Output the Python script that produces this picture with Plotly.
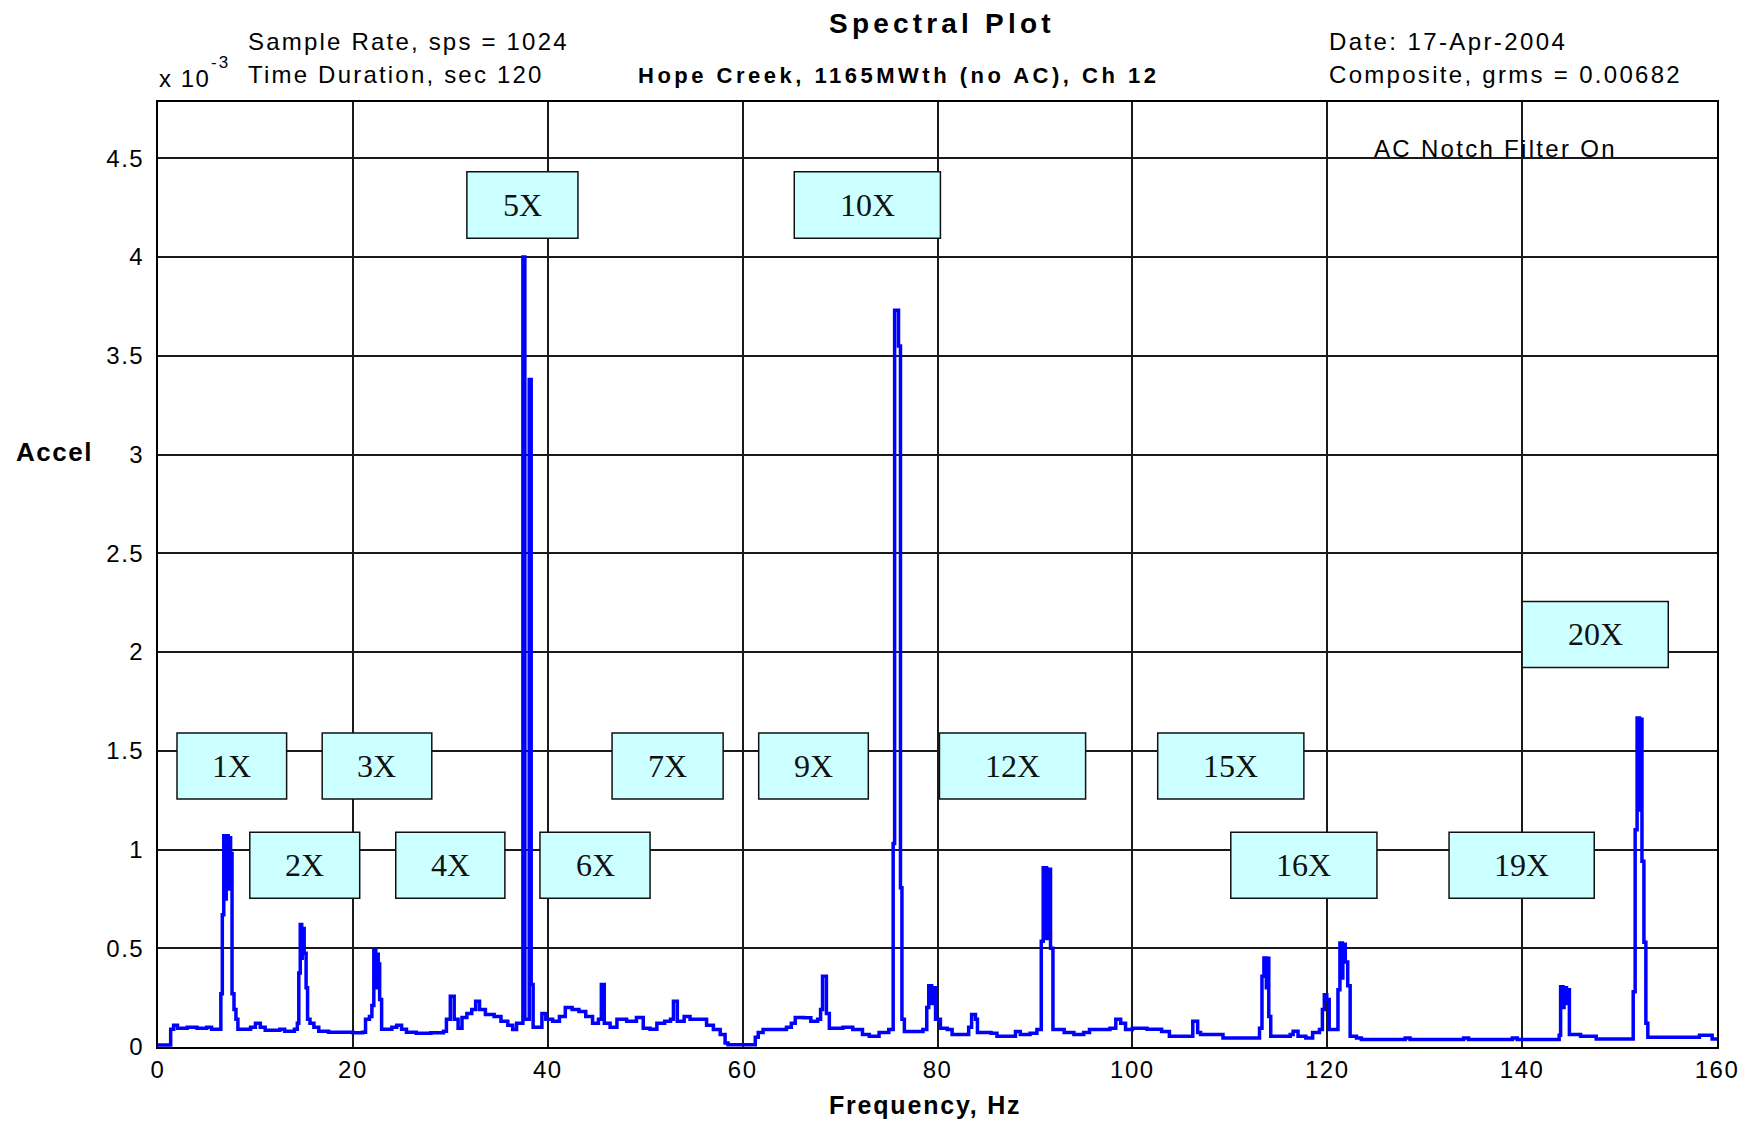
import plotly.graph_objects as go

# ---------------- data ----------------
freq_hz = [0.0, 1.3, 1.6, 2.0, 3.0, 4.0, 5.0, 5.5, 6.45, 6.6,
           6.75, 6.95, 7.0, 7.2, 7.25, 7.45, 7.6, 7.8, 8.0, 8.2,
           9.5, 10.0, 10.5, 11.0, 12.5, 13.0, 14.0, 14.3, 14.45, 14.6,
           14.75, 14.8, 15.0, 15.2, 15.35, 15.6, 16.0, 16.5, 17.5, 19.0,
           20.0, 21.0, 21.3, 21.7, 21.95, 22.15, 22.35, 22.4, 22.6, 22.75,
           22.95, 24.0, 24.5, 25.0, 25.5, 26.5, 28.0, 29.3, 29.6, 30.0,
           30.4, 30.8, 31.2, 31.7, 32.2, 32.6, 33.0, 33.6, 34.5, 35.2,
           35.9, 36.4, 36.8, 37.45, 37.65, 38.1, 38.3, 38.5, 39.4, 39.8,
           40.5, 41.2, 41.8, 42.5, 43.2, 43.9, 44.6, 45.2, 45.5, 45.8,
           46.4, 47.1, 48.1, 49.1, 49.8, 50.5, 51.2, 52.0, 52.6, 52.9,
           53.3, 54.0, 54.6, 55.6, 56.3, 57.0, 57.7, 58.2, 58.5, 61.3,
           61.6, 62.1, 64.5, 65.0, 65.4, 66.3, 67.0, 67.7, 68.0, 68.2,
           68.6, 68.9, 69.6, 70.3, 71.3, 72.3, 73.0, 74.0, 75.0, 75.45,
           75.6, 76.0, 76.2, 76.35, 76.6, 78.5, 78.9, 79.1, 79.4, 79.45,
           79.8, 80.3, 81.0, 81.5, 83.0, 83.2, 83.5, 83.9, 84.1, 85.5,
           86.1, 87.5, 88.0, 88.5, 89.5, 90.2, 90.65, 90.85, 91.2, 91.25,
           91.6, 91.85, 93.0, 94.0, 95.0, 95.6, 97.7, 98.3, 98.8, 99.3,
           100.0, 101.5, 103.0, 103.8, 106.0, 106.2, 106.7, 107.0, 109.3, 112.7,
           113.05, 113.3, 113.5, 113.75, 113.8, 114.0, 114.2, 116.2, 116.5, 117.0,
           117.8, 118.5, 119.2, 119.5, 119.7, 119.95, 120.2, 121.1, 121.3, 121.55,
           121.6, 121.85, 122.1, 122.35, 123.0, 123.5, 128.0, 128.5, 134.0, 134.5,
           139.0, 139.5, 143.8, 143.95, 144.2, 144.3, 144.55, 144.6, 144.85, 146.0,
           147.6, 151.4, 151.6, 151.8, 152.05, 152.1, 152.3, 152.5, 152.7, 152.9,
           158.2, 159.5, 160.0]
accel_e3 = [0.01, 0.09, 0.11, 0.095, 0.10, 0.095, 0.10, 0.09, 0.27, 0.67,
            1.07, 0.75, 1.07, 0.80, 1.06, 0.98, 0.27, 0.19, 0.14, 0.09,
            0.10, 0.12, 0.10, 0.085, 0.09, 0.08, 0.09, 0.12, 0.375, 0.62,
            0.45, 0.60, 0.475, 0.30, 0.14, 0.12, 0.10, 0.08, 0.075, 0.075,
            0.072, 0.075, 0.14, 0.155, 0.21, 0.49, 0.30, 0.47, 0.42, 0.24,
            0.09, 0.10, 0.11, 0.09, 0.075, 0.07, 0.072, 0.08, 0.14, 0.257,
            0.14, 0.095, 0.15, 0.17, 0.19, 0.232, 0.19, 0.165, 0.155, 0.13,
            0.11, 0.089, 0.12, 4.0, 0.14, 3.38, 0.316, 0.10, 0.17, 0.14,
            0.13, 0.155, 0.20, 0.19, 0.18, 0.155, 0.12, 0.14, 0.316, 0.12,
            0.10, 0.14, 0.13, 0.15, 0.095, 0.09, 0.12, 0.13, 0.14, 0.232,
            0.13, 0.155, 0.14, 0.14, 0.11, 0.089, 0.063, 0.02, 0.012, 0.05,
            0.074, 0.089, 0.10, 0.12, 0.15, 0.148, 0.13, 0.14, 0.19, 0.358,
            0.17, 0.095, 0.095, 0.10, 0.089, 0.063, 0.055, 0.074, 0.089, 1.03,
            3.73, 3.55, 0.806, 0.14, 0.079, 0.089, 0.20, 0.31, 0.22, 0.30,
            0.14, 0.095, 0.089, 0.063, 0.063, 0.10, 0.165, 0.14, 0.074, 0.07,
            0.055, 0.055, 0.079, 0.063, 0.07, 0.089, 0.535, 0.907, 0.55, 0.90,
            0.50, 0.089, 0.074, 0.063, 0.074, 0.089, 0.095, 0.14, 0.12, 0.089,
            0.095, 0.09, 0.079, 0.055, 0.055, 0.13, 0.074, 0.063, 0.046, 0.046,
            0.095, 0.358, 0.451, 0.30, 0.45, 0.155, 0.055, 0.063, 0.08, 0.055,
            0.046, 0.074, 0.089, 0.19, 0.265, 0.24, 0.089, 0.29, 0.527, 0.35,
            0.52, 0.43, 0.31, 0.055, 0.046, 0.038, 0.045, 0.038, 0.045, 0.038,
            0.045, 0.038, 0.06, 0.305, 0.20, 0.30, 0.22, 0.29, 0.063, 0.055,
            0.04, 0.28, 1.10, 1.666, 1.20, 1.66, 0.94, 0.53, 0.12, 0.05,
            0.06, 0.04, 0.04]

x_ticks = [0, 20, 40, 60, 80, 100, 120, 140, 160]
x_tick_labels = ["0", "20", "40", "60", "80", "100", "120", "140", "160"]
y_ticks = [0, 0.5, 1, 1.5, 2, 2.5, 3, 3.5, 4, 4.5]
y_tick_labels = ["0", "0.5", "1", "1.5", "2", "2.5", "3", "3.5", "4", "4.5"]

harmonic_labels = ["1X", "2X", "3X", "4X", "5X", "6X", "7X", "9X", "10X", "12X", "15X", "16X", "19X", "20X"]
box_f0 = [1.95, 9.42, 16.85, 24.4, 31.7, 39.2, 46.6, 61.65, 65.3, 80.2, 102.6, 110.1, 132.5, 140.0]
box_f1 = [13.2, 20.7, 28.1, 35.6, 43.1, 50.5, 58.0, 72.9, 80.3, 95.2, 117.6, 125.1, 147.4, 155.0]
box_a0 = [1.256, 0.753, 1.256, 0.753, 4.095, 0.753, 1.256, 1.256, 4.095, 1.256, 1.256, 0.753, 0.753, 1.922]
box_a1 = [1.590, 1.087, 1.590, 1.087, 4.432, 1.087, 1.590, 1.590, 4.432, 1.590, 1.590, 1.087, 1.087, 2.256]

# ---------------- figure ----------------
SANS = "Liberation Sans, Arial, sans-serif"
SERIF = "Liberation Serif, Times New Roman, serif"


def spaced(text, ls):
    return '<span style="letter-spacing:%spx">%s</span>' % (ls, text)


fig = go.Figure()
fig.add_trace(go.Scatter(
    x=freq_hz, y=accel_e3, mode="lines", line_shape="hv",
    line=dict(color="#0000FF", width=3.5), showlegend=False, hoverinfo="x+y"))

OFF = 8                      # page offset of the figure (body margin)
W, H = 1752 - OFF, 1121 - OFF
ML, MR, MT, MB = 149.5, 34.5, 94, 73.5
PW, PH = W - ML - MR, H - MT - MB


def px(x_page):
    return (x_page - OFF - ML) / PW


def py(y_page):
    return (H - MB - (y_page - OFF)) / PH


shapes = []
annotations = []
for lab, f0, f1, a0, a1 in zip(harmonic_labels, box_f0, box_f1, box_a0, box_a1):
    shapes.append(dict(type="rect", xref="x", yref="y", x0=f0, x1=f1, y0=a0, y1=a1,
                       fillcolor="#CCFFFF", line=dict(color="#111111", width=1.5), layer="above"))
    annotations.append(dict(x=(f0 + f1) / 2, y=(a0 + a1) / 2, xref="x", yref="y", text=lab,
                            showarrow=False, xanchor="center", yanchor="middle",
                            font=dict(family=SERIF, size=32, color="#111111")))

hdr = dict(family=SANS, size=24, color="#000000")
annotations += [
    dict(x=px(942), y=py(23), text=spaced("<b>Spectral Plot</b>", 4.2),
         font=dict(family=SANS, size=28, color="#000000"), xanchor="center"),
    dict(x=px(898), y=py(75), text=spaced("<b>Hope Creek, 1165MWth (no AC), Ch 12</b>", 3.5),
         font=dict(family=SANS, size=22, color="#000000"), xanchor="center"),
    dict(x=px(246), y=py(41.5), text=spaced("Sample Rate, sps = 1024", 2.2), font=hdr, xanchor="left"),
    dict(x=px(246), y=py(74.5), text=spaced("Time Duration, sec 120", 2.2), font=hdr, xanchor="left"),
    dict(x=px(156), y=py(78), text=spaced("x 10", 1.5), font=hdr, xanchor="left"),
    dict(x=px(209), y=py(62.5), text=spaced("-3", 2), font=dict(family=SANS, size=17, color="#000000"),
         xanchor="left"),
    dict(x=px(1327), y=py(41.5), text=spaced("Date: 17-Apr-2004", 2.4), font=hdr, xanchor="left"),
    dict(x=px(1327), y=py(74.5), text=spaced("Composite, grms = 0.00682", 2.3), font=hdr, xanchor="left"),
    dict(x=px(1372), y=py(149), text=spaced("AC Notch Filter On", 2.3), font=hdr, xanchor="left"),
    dict(x=px(13), y=py(452), text=spaced("<b>Accel</b>", 1.5),
         font=dict(family=SANS, size=26, color="#000000"), xanchor="left"),
    dict(x=px(925), y=py(1106), text=spaced("<b>Frequency, Hz</b>", 1.8),
         font=dict(family=SANS, size=25, color="#000000"), xanchor="center"),
]
for a in annotations[len(harmonic_labels):]:
    a.update(xref="paper", yref="paper", showarrow=False, yanchor="middle")

fig.update_layout(
    width=W, height=H,
    margin=dict(l=ML, r=MR, t=MT, b=MB, pad=0),
    paper_bgcolor="white", plot_bgcolor="white",
    font=dict(family=SANS, size=24, color="#000000"),
    shapes=shapes, annotations=annotations,
    xaxis=dict(range=[0, 160], tickvals=x_ticks,
               ticktext=[spaced(t, 1.5) for t in x_tick_labels], ticks="", showgrid=True,
               gridcolor="#1a1a1a", gridwidth=1.5, zeroline=False, showline=True,
               linecolor="#000000", linewidth=2, mirror=True, ticklabelstandoff=0,
               tickfont=dict(family=SANS, size=24, color="#000000")),
    yaxis=dict(range=[0, 4.785], tickvals=y_ticks,
               ticktext=[spaced(t, 1.5) for t in y_tick_labels], ticks="",
               showgrid=True, gridcolor="#1a1a1a", gridwidth=1.5, zeroline=False,
               showline=True, linecolor="#000000", linewidth=2, mirror=True,
               ticklabelstandoff=7, tickfont=dict(family=SANS, size=24, color="#000000")),
)

fig.write_html("out.html")
